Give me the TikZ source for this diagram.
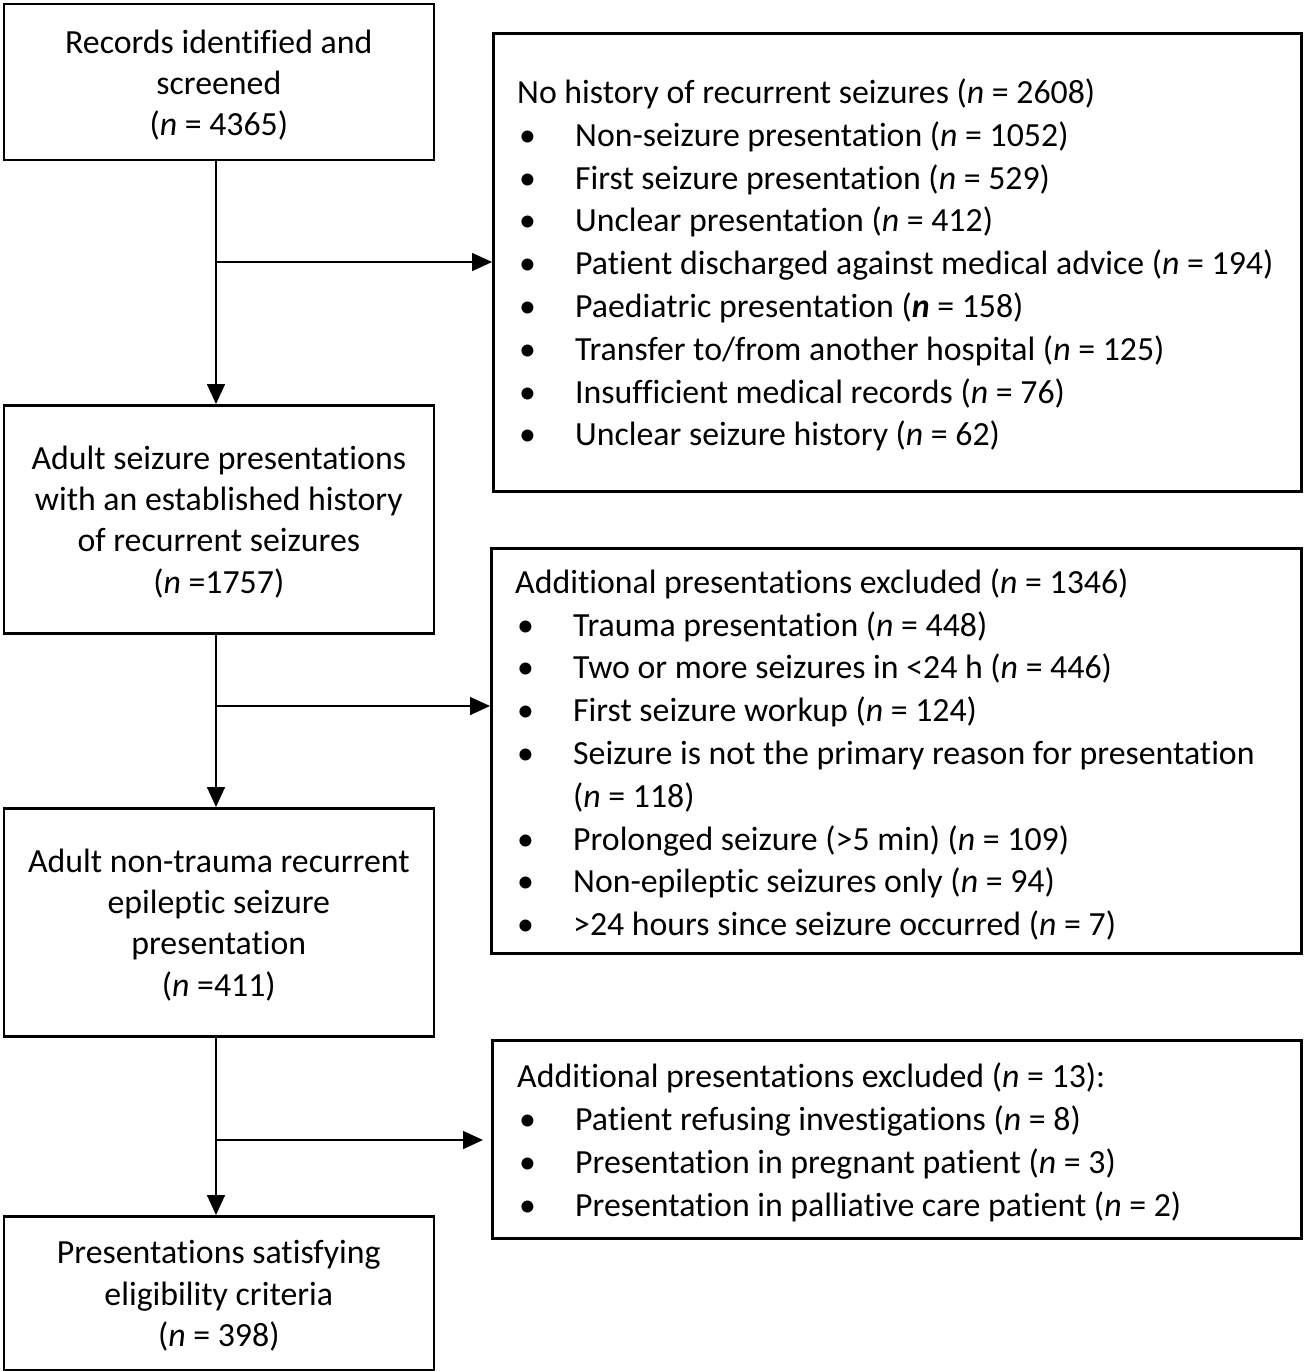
\documentclass[tikz,border=0pt]{standalone}
\usepackage{fontspec}
\setmainfont{Carlito}[Ligatures={NoCommon}]
\usetikzlibrary{arrows.meta}
\newcommand\bitem{\makebox[58pt][l]{\hspace{2pt}\textbullet}}
\newcommand\nn{\textit{n}}
\tikzset{
  lbox/.style={draw, line width=2.6pt, minimum width=430pt, inner sep=0pt, anchor=north west},
  ltext/.style={align=center, inner sep=0pt, font=\fontsize{33.8}{41.3}\selectfont},
  rbox/.style={draw, line width=2.6pt, anchor=north west, inner sep=0pt},
  rtext/.style={anchor=west, align=left, inner sep=0pt, font=\fontsize{33.8}{42.8}\selectfont},
  conn/.style={line width=1.6pt, -{Triangle[length=20pt,width=18pt]}}
}
\begin{document}
\begin{tikzpicture}[x=1pt,y=-1pt]
\useasboundingbox (0,0) rectangle (1304,1371);
% left column boxes
\node[lbox, minimum height=156pt] (b1) at (2.5,2.5) {};
\node[lbox, minimum height=228pt] (b2) at (2.5,404) {};
\node[lbox, minimum height=228pt] (b3) at (2.5,807) {};
\node[lbox, minimum height=154pt] (b4) at (2.5,1215) {};
% left texts
\node[ltext] (b1t) at ([yshift=-3.5pt]b1.center) {Records identified and\\screened\\(\nn{} = 4365)};
\node[ltext] (b2t) at ([yshift=-2.5pt]b2.center) {Adult seizure presentations\\with an established history\\of recurrent seizures\\(\nn{} =1757)};
\node[ltext] (b3t) at ([yshift=-2.5pt]b3.center) {Adult non-trauma recurrent\\epileptic seizure\\presentation\\(\nn{} =411)};
\node[ltext] (b4t) at ([yshift=-2.5pt]b4.center) {Presentations satisfying\\eligibility criteria\\(\nn{} = 398)};
% right column boxes
\node[rbox, minimum width=808pt, minimum height=458pt] (A) at (492,32) {};
\node[rbox, minimum width=810pt, minimum height=405pt] (B) at (490,547) {};
\node[rbox, minimum width=809pt, minimum height=198pt] (C) at (491,1039) {};
% right texts
\node[rtext] (At) at (517,265) {No history of recurrent seizures (\nn{} = 2608)\\
\bitem Non-seizure presentation (\nn{} = 1052)\\
\bitem First seizure presentation (\nn{} = 529)\\
\bitem Unclear presentation (\nn{} = 412)\\
\bitem Patient discharged against medical advice (\nn{} = 194)\\
\bitem Paediatric presentation (\textbf{\textit{n}} = 158)\\
\bitem Transfer to/from another hospital (\nn{} = 125)\\
\bitem Insufficient medical records (\nn{} = 76)\\
\bitem Unclear seizure history (\nn{} = 62)};
\node[rtext] (Bt) at (515,754.5) {Additional presentations excluded (\nn{} = 1346)\\
\bitem Trauma presentation (\nn{} = 448)\\
\bitem Two or more seizures in <24 h\ (\nn{} = 446)\\
\bitem First seizure workup (\nn{} = 124)\\
\bitem Seizure is not the primary reason for presentation\\
\hspace*{58pt}(\nn{} = 118)\\
\bitem Prolonged seizure (>5 min) (\nn{} = 109)\\
\bitem Non-epileptic seizures only (\nn{} = 94)\\
\bitem >24 hours since seizure occurred (\nn{} = 7)};
\node[rtext] (Ct) at (517,1142.5) {Additional presentations excluded (\nn{} = 13):\\
\bitem Patient refusing investigations (\nn{} = 8)\\
\bitem Presentation in pregnant patient (\nn{} = 3)\\
\bitem Presentation in palliative care patient (\nn{} = 2)};
% connectors
\coordinate (j1) at (216,262);
\coordinate (j2) at (216,706);
\coordinate (j3) at (216,1140);
\coordinate (e3) at (483,1140);
\draw[conn] (b1.south -| j1) -- (b2.north -| j1);
\draw[conn] (b2.south -| j2) -- (b3.north -| j2);
\draw[conn] (b3.south -| j3) -- (b4.north -| j3);
\draw[conn] (j1) -- (j1 -| A.west);
\draw[conn] (j2) -- (j2 -| B.west);
\draw[conn] (j3) -- (e3);
\end{tikzpicture}
\end{document}
